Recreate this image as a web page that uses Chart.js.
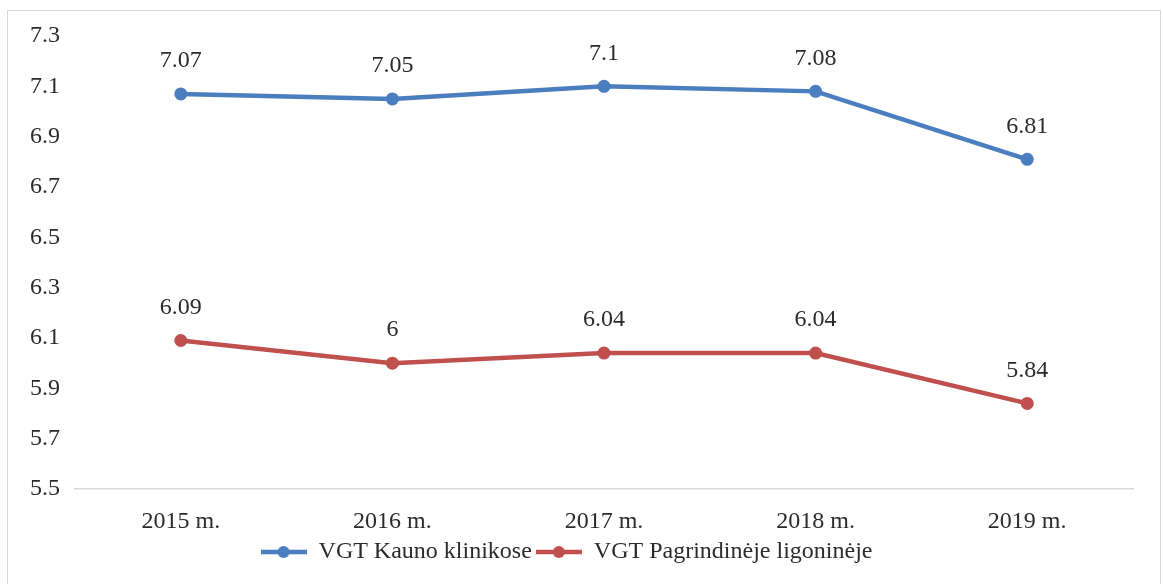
<!DOCTYPE html>
<html>
<head>
<meta charset="utf-8">
<script src="https://cdn.jsdelivr.net/npm/chart.js@4"></script>
<style>
html,body{margin:0;padding:0;background:#fff;}
#wrap{position:absolute;left:0;top:0;width:1163px;height:584px;}
</style>
</head>
<body>
<div id="wrap"><canvas id="c" width="1163" height="584"></canvas></div>
<script>
const categories = ["2015 m.", "2016 m.", "2017 m.", "2018 m.", "2019 m."];
const seriesNames = ["VGT Kauno klinikose", "VGT Pagrindinėje ligoninėje"];
const kaunoKlinikos = [7.07, 7.05, 7.1, 7.08, 6.81];
const pagrindineLigonine = [6.09, 6, 6.04, 6.04, 5.84];
const yTicks = [5.5, 5.7, 5.9, 6.1, 6.3, 6.5, 6.7, 6.9, 7.1, 7.3];

const BLUE = '#4a7ebf';
const RED = '#c0504d';
const TEXT = '#2b2b2b';
const FONT = "'Liberation Serif', 'Times New Roman', serif";

function marker(color){
  const c = document.createElement('canvas');
  c.width = 46; c.height = 14;
  const x = c.getContext('2d');
  x.strokeStyle = color; x.lineWidth = 4.5;
  x.beginPath(); x.moveTo(0,7); x.lineTo(46,7); x.stroke();
  x.fillStyle = color;
  x.beginPath(); x.arc(23,7,6,0,Math.PI*2); x.fill();
  return c;
}
const markers = [marker(BLUE), marker(RED)];

const framePlugin = {
  id: 'frame',
  beforeDraw(chart){
    const ctx = chart.ctx;
    ctx.save();
    ctx.fillStyle = '#fff';
    ctx.fillRect(0,0,chart.width,chart.height);
    ctx.strokeStyle = '#d9d9d9';
    ctx.lineWidth = 1;
    ctx.strokeRect(7.5, 10.5, 1153, 590);
    ctx.restore();
  }
};

const labelPlugin = {
  id: 'valueLabels',
  afterDatasetsDraw(chart){
    const ctx = chart.ctx;
    ctx.save();
    ctx.font = "24px " + FONT;
    ctx.fillStyle = TEXT;
    ctx.textAlign = 'center';
    ctx.textBaseline = 'middle';
    chart.data.datasets.forEach((ds, i) => {
      const meta = chart.getDatasetMeta(i);
      meta.data.forEach((pt, j) => {
        ctx.fillText(String(ds.data[j]), pt.x, pt.y - 33);
      });
    });
    ctx.restore();
  }
};

new Chart(document.getElementById('c'), {
  type: 'line',
  data: {
    labels: categories,
    datasets: [
      { label: seriesNames[0], data: kaunoKlinikos, borderColor: BLUE, backgroundColor: BLUE,
        borderWidth: 4.5, pointRadius: 6.5, pointHoverRadius: 6.5, pointBackgroundColor: BLUE, pointBorderWidth: 0, tension: 0 },
      { label: seriesNames[1], data: pagrindineLigonine, borderColor: RED, backgroundColor: RED,
        borderWidth: 4.5, pointRadius: 6.5, pointHoverRadius: 6.5, pointBackgroundColor: RED, pointBorderWidth: 0, tension: 0 }
    ]
  },
  options: {
    responsive: false,
    animation: false,
    events: [],
    layout: { padding: { top: 36, right: 30, bottom: 10, left: 0 } },
    scales: {
      x: {
        offset: true,
        grid: { display: false, drawTicks: false },
        border: { display: true, color: '#d9d9d9', width: 1.5 },
        ticks: { color: TEXT, font: { family: FONT, size: 24 }, padding: 18, maxRotation: 0 },
        afterFit(s){ s.height = 47; }
      },
      y: {
        min: 5.5, max: 7.3,
        grid: { display: false, drawTicks: false },
        border: { display: false },
        afterBuildTicks(s){ s.ticks = yTicks.map(v => ({ value: v })); },
        ticks: { color: TEXT, font: { family: FONT, size: 24 }, padding: 15,
          callback: v => Number(v).toFixed(1) },
        afterFit(s){ s.width = 75; }
      }
    },
    plugins: {
      legend: {
        position: 'bottom',
        labels: {
          color: TEXT,
          font: { family: FONT, size: 24 },
          usePointStyle: true,
          pointStyleWidth: 46,
          padding: 4,
          generateLabels(chart){
            return chart.data.datasets.map((ds, i) => ({
              text: ds.label, fillStyle: ds.borderColor, strokeStyle: ds.borderColor,
              lineWidth: 0, pointStyle: markers[i], datasetIndex: i, hidden: false, fontColor: TEXT
            }));
          }
        }
      },
      tooltip: { enabled: false }
    }
  },
  plugins: [framePlugin, labelPlugin]
});
</script>
</body>
</html>
